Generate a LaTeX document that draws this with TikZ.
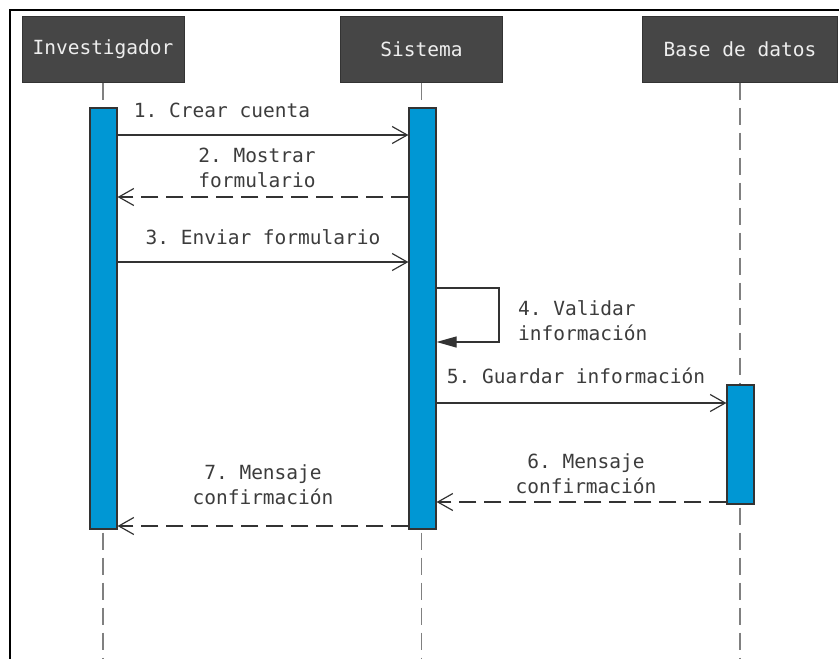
\documentclass[tikz,border=0pt]{standalone}
\usepackage{fontspec}
\setmonofont{DejaVu Sans Mono}
\usetikzlibrary{arrows.meta}
\definecolor{actorfill}{HTML}{464646}
\definecolor{actortext}{HTML}{EEEEEE}
\definecolor{barfill}{HTML}{0097D4}
\definecolor{txt}{HTML}{3C3C3C}
\definecolor{ln}{HTML}{333333}
\definecolor{life}{HTML}{808080}
\begin{document}
\begin{tikzpicture}[x=1pt,y=-1pt,
  actor/.style={draw=ln, fill=actorfill, text=actortext, minimum height=66pt, inner sep=0pt,
    font=\ttfamily\fontsize{19.5}{24}\selectfont, line width=1pt},
  actbar/.style={draw=ln, fill=barfill, line width=1.2pt, inner sep=0pt, minimum width=27pt},
  lifeline/.style={draw=life, line width=1.2pt, dash pattern=on 17pt off 8pt},
  msg/.style={draw=ln, line width=1.2pt, -{Straight Barb[length=15pt,width=17pt,line width=1.2pt]}},
  retmsg/.style={msg, dash pattern=on 17pt off 8pt},
  selfmsg/.style={draw=ln, line width=1.2pt, -{Triangle[length=20pt,width=11pt]}},
  lbl/.style={font=\ttfamily\fontsize{19.5}{25}\selectfont, text=txt, inner sep=0pt, align=center}
]
\useasboundingbox (0,0) rectangle (839,659);
\draw[line width=2pt, black] (10,659) -- (10,10) -- (839,10);

% actors
\node[actor, minimum width=162pt] (inv) at (103,49) {Investigador};
\node[actor, minimum width=162pt] (sis) at (421.5,49) {Sistema};
\node[actor, minimum width=195pt] (bd) at (740,49) {Base de datos};

% lifelines
\coordinate (invend) at (103,659);
\coordinate (sisend) at (421.5,659);
\coordinate (bdend) at (740,659);
\draw[lifeline] (inv.south) -- (invend);
\draw[lifeline] (sis.south) -- (sisend);
\draw[lifeline] (bd.south) -- (bdend);

% activation bars
\node[actbar, minimum height=421pt] (ib) at (103.5,318.5) {};
\node[actbar, minimum height=421pt] (sb) at (422.5,318.5) {};
\node[actbar, minimum height=119pt] (db) at (740.5,444.5) {};

% messages
\draw[msg] (ib.east |- 0,135) -- (sb.west |- 0,135);
\draw[retmsg] (sb.west |- 0,197) -- (ib.east |- 0,197);
\draw[msg] (ib.east |- 0,262) -- (sb.west |- 0,262);
\coordinate (loopa) at (499,288);
\coordinate (loopb) at (499,342);
\draw[selfmsg] (sb.east |- loopa) -- (loopa) -- (loopb) -- (sb.east |- loopb);
\draw[msg] (sb.east |- 0,403) -- (db.west |- 0,403);
\draw[retmsg] (db.west |- 0,502) -- (sb.east |- 0,502);
\draw[retmsg] (sb.west |- 0,526) -- (ib.east |- 0,526);

% labels
\node[lbl] (l1) at (222,110) {1. Crear cuenta};
\node[lbl] (l2) at (257,167.5) {2. Mostrar\\formulario};
\node[lbl] (l3) at (263,237) {3. Enviar formulario};
\node[lbl, align=left, anchor=west] (l4) at (518,321) {4. Validar\\información};
\node[lbl] (l5) at (576,376) {5. Guardar información};
\node[lbl] (l6) at (586,473.5) {6. Mensaje\\confirmación};
\node[lbl] (l7) at (263,485) {7. Mensaje\\confirmación};
\end{tikzpicture}
\end{document}
